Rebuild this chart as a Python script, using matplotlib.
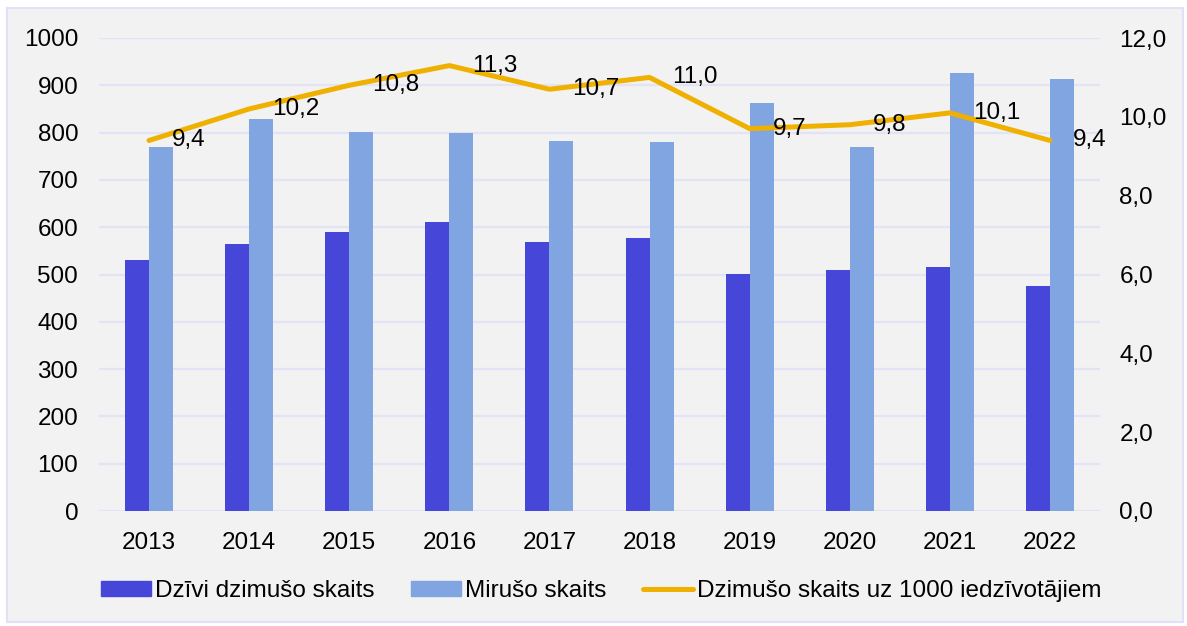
import numpy as np
import matplotlib.pyplot as plt
from matplotlib.patches import Rectangle
from matplotlib.lines import Line2D

plt.rcParams['font.family'] = ['Liberation Sans', 'DejaVu Sans']

# Datos
gadi = ['2013', '2014', '2015', '2016', '2017', '2018', '2019', '2020', '2021', '2022']
dzimusi = [530, 564, 590, 610, 569, 577, 502, 509, 515, 475]
mirusi = [769, 829, 801, 799, 782, 780, 862, 769, 927, 913]
uz_1000 = [9.4, 10.2, 10.8, 11.3, 10.7, 11.0, 9.7, 9.8, 10.1, 9.4]

c_dz = '#4646D8'
c_mi = '#80A5E1'
c_line = '#F0B000'
c_grid = '#E3E3F6'
fs = 17.5

fig = plt.figure(figsize=(11.87, 6.26), dpi=100)
fig.patch.set_facecolor('white')
fondo = Rectangle((7 / 1187, 1 - 622 / 626), 1176 / 1187, 614 / 626,
                  transform=fig.transFigure, facecolor='#F2F2F2',
                  edgecolor='#E0E0F8', linewidth=1.5, zorder=-10)
fig.patches.append(fondo)

ax = fig.add_axes([99 / 1187, 1 - 511 / 626, 1001 / 1187, 473 / 626])
ax.set_facecolor('none')
x = np.arange(len(gadi))
w = 0.24
ax.bar(x - w / 2, dzimusi, w, color=c_dz, zorder=3)
ax.bar(x + w / 2, mirusi, w, color=c_mi, zorder=3)
ax.set_xlim(-0.5, len(gadi) - 0.5)
ax.set_ylim(0, 1000)
ax.set_yticks(np.arange(0, 1001, 100))
ax.set_xticks(x)
ax.set_xticklabels(gadi)
ax.grid(axis='y', color=c_grid, linewidth=1.6, zorder=0)
ax.tick_params(axis='both', length=0, labelsize=fs)
ax.tick_params(axis='y', pad=15)
ax.tick_params(axis='x', pad=15)
for s in ax.spines.values():
    s.set_visible(False)

ax2 = ax.twinx()
ax2.plot(x, uz_1000, color=c_line, linewidth=3.6, solid_capstyle='round', zorder=4)
ax2.set_ylim(0, 12)
ax2.set_yticks(np.arange(0, 12.1, 2))
ax2.set_yticklabels([f'{v:.1f}'.replace('.', ',') for v in np.arange(0, 12.1, 2)])
ax2.tick_params(axis='y', length=0, labelsize=fs, pad=14)
for s in ax2.spines.values():
    s.set_visible(False)
for xi, v in zip(x, uz_1000):
    ax2.annotate(f'{v:.1f}'.replace('.', ','), (xi, v), xytext=(16.5, 0),
                 textcoords='offset points', ha='left', va='center',
                 fontsize=fs, zorder=5)

handles = [Rectangle((0, 0), 1, 1, color=c_dz),
           Rectangle((0, 0), 1, 1, color=c_mi),
           Line2D([0], [0], color=c_line, linewidth=3.6, solid_capstyle='round')]
labels = ['Dzīvi dzimušo skaits', 'Mirušo skaits', 'Dzimušo skaits uz 1000 iedzīvotājiem']
fig.legend(handles, labels, loc='center', bbox_to_anchor=(601 / 1187, 1 - 591 / 626),
           ncol=3, frameon=False, fontsize=fs, handlelength=2.06, handleheight=0.57,
           handletextpad=0.15, columnspacing=1.52)

plt.savefig('out.png', dpi=100)
